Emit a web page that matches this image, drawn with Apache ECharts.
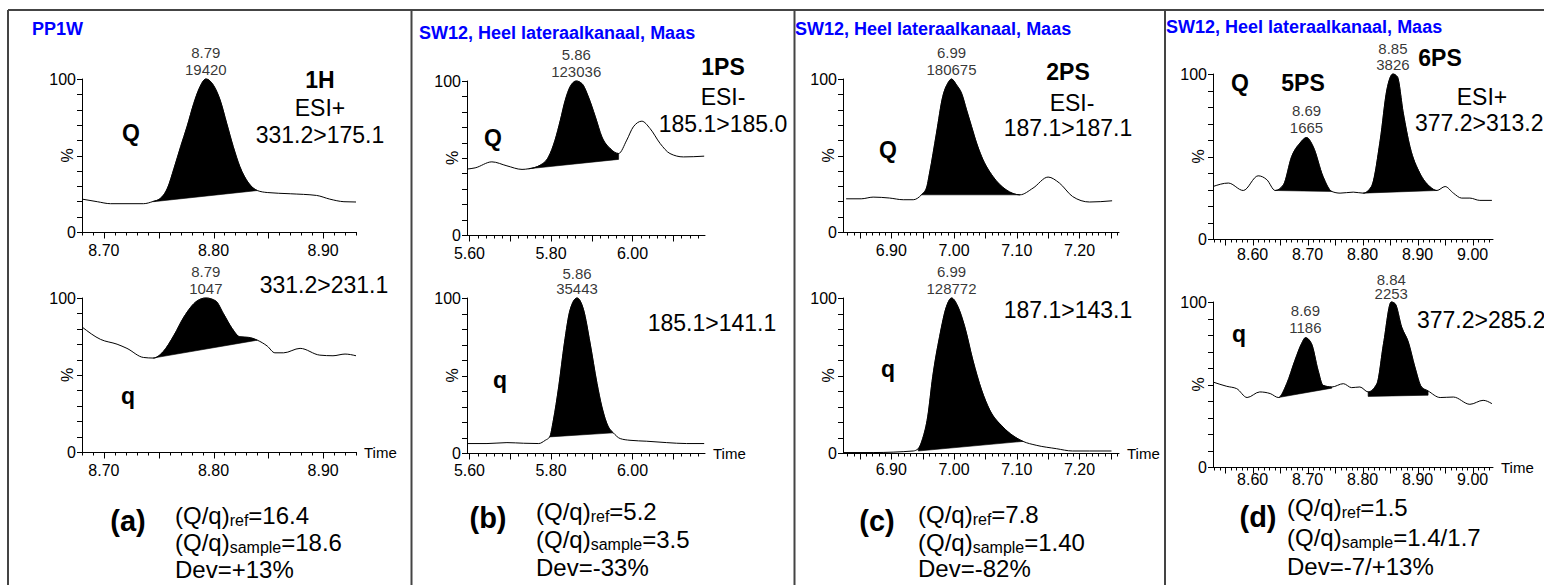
<!DOCTYPE html>
<html><head><meta charset="utf-8">
<script src="https://cdn.jsdelivr.net/npm/echarts@6/dist/echarts.min.js"></script>
<style>html,body{margin:0;padding:0;background:#fff}#c{width:1544px;height:585px}</style>
</head><body><div id="c"></div>
<script>
// ---------------- DATA ----------------
// (a) PP1W, 1H
const aQ = [[8.680,21.5],[8.694,19.8],[8.706,18.5],[8.736,18.5],[8.745,20.0],[8.751,21.7],[8.758,28.7],[8.764,41.7],[8.770,55.8],[8.776,69.3],[8.782,84.1],[8.787,93.9],[8.793,100],[8.801,94.6],[8.806,86.3],[8.812,71.1],[8.818,55.8],[8.824,42.8],[8.832,32.0],[8.840,27.1],[8.849,25.8],[8.870,25.0],[8.894,23.9],[8.906,21.5],[8.919,19.8],[8.930,19.6]];
const aQBase = [[8.745,19.8],[8.840,27.1]];
const aQApex = [8.793,100]; const aQPeakText = ['8.79','19420'];
const aq = [[8.680,81.2],[8.697,73.1],[8.712,70.0],[8.721,67.3],[8.736,61.4],[8.745,61.0],[8.754,65.1],[8.764,75.9],[8.773,87.7],[8.785,98.1],[8.793,100],[8.802,98.1],[8.809,89.9],[8.817,80.2],[8.824,74.8],[8.832,74.4],[8.840,72.6],[8.849,68.8],[8.856,64.4],[8.864,64.4],[8.879,67.3],[8.897,62.9],[8.909,62.5],[8.920,63.6],[8.930,62.5]];
const aqBase = [[8.745,61.0],[8.840,72.6]];
const aqApex = [8.793,100]; const aqPeakText = ['8.79','1047'];
const aRatio = ['16.4','18.6','+13%'];

// (b) 1PS
const bQ = [[5.594,42.8],[5.614,43.6],[5.655,47.5],[5.692,44.9],[5.729,42.6],[5.745,43.0],[5.774,45.4],[5.794,50.7],[5.810,61.6],[5.823,74.5],[5.835,87.5],[5.847,96.3],[5.862,100],[5.876,98.3],[5.892,89.6],[5.909,76.7],[5.925,63.7],[5.945,56.2],[5.966,52.9],[5.986,61.6],[6.002,70.2],[6.023,73.9],[6.043,69.2],[6.068,59.4],[6.092,52.9],[6.125,50.7],[6.176,51.2]];
const bQBase = [[5.745,43.0],[5.966,49.1]];
const bQApex = [5.862,100]; const bQPeakText = ['5.86','123036'];
const bq = [[5.594,6.1],[5.643,6.1],[5.692,6.7],[5.733,6.3],[5.770,6.1],[5.786,8.2],[5.797,10.4],[5.806,21.2],[5.819,42.7],[5.833,70.9],[5.847,92.4],[5.864,100],[5.880,92.4],[5.896,70.9],[5.913,44.9],[5.925,29.8],[5.941,16.8],[5.953,13.0],[5.970,9.3],[5.994,8.2],[6.035,7.6],[6.084,6.7],[6.133,6.1],[6.176,6.1]];
const bqBase = [[5.797,10.4],[5.953,13.0]];
const bqApex = [5.864,100]; const bqPeakText = ['5.86','35443'];
const bRatio = ['5.2','3.5','-33%'];

// (c) 2PS
const cQ = [[6.828,21.7],[6.852,21.7],[6.871,22.8],[6.897,22.2],[6.919,21.1],[6.935,21.1],[6.948,24.3],[6.956,28.7],[6.961,38.5],[6.972,64.6],[6.982,88.5],[6.990,97.2],[6.996,100],[7.004,96.1],[7.012,90.7],[7.020,79.8],[7.028,68.9],[7.036,58.1],[7.044,49.3],[7.062,36.3],[7.083,27.6],[7.105,24.3],[7.126,28.7],[7.150,35.9],[7.168,32.0],[7.189,23.2],[7.216,19.6],[7.252,20.4]];
const cQBase = [[6.948,24.3],[7.105,24.3]];
const cQApex = [6.996,100]; const cQPeakText = ['6.99','180675'];
const cq = [[6.823,0.3],[6.871,0.3],[6.935,1.3],[6.943,2.8],[6.950,9.3],[6.958,23.3],[6.966,49.2],[6.977,75.1],[6.988,94.6],[6.996,100],[7.006,94.6],[7.017,81.6],[7.030,60.0],[7.044,40.6],[7.057,27.7],[7.078,16.8],[7.110,7.5],[7.131,5.0],[7.163,2.8],[7.189,1.3],[7.216,1.3],[7.251,1.3]];
const cqBase = [[6.943,1.3],[7.110,7.5]];
const cqApex = [6.996,100]; const cqPeakText = ['6.99','128772'];
const cRatio = ['7.8','1.40','-82%'];

// (d) 5PS / 6PS
const dQ = [[8.528,31.8],[8.556,33.9],[8.583,29.4],[8.610,38.3],[8.626,35.9],[8.641,29.4],[8.656,32.8],[8.671,50.0],[8.686,58.1],[8.698,61.5],[8.710,56.1],[8.728,37.9],[8.744,28.8],[8.759,27.8],[8.783,28.4],[8.801,27.8],[8.816,31.8],[8.832,60.0],[8.844,90.3],[8.855,100],[8.863,98.4],[8.874,76.2],[8.886,56.0],[8.904,39.9],[8.922,31.8],[8.935,29.4],[8.950,31.8],[8.965,27.8],[8.980,24.8],[8.995,24.8],[9.013,23.4],[9.035,23.4]];
const dQBase5 = [[8.641,29.4],[8.744,28.8]];
const dQBase6 = [[8.801,27.8],[8.935,29.4]];
const dQApex5 = [8.698,61.5]; const dQPeakText5 = ['8.69','1665'];
const dQApex6 = [8.855,100]; const dQPeakText6 = ['8.85','3826'];
const dq = [[8.528,51.5],[8.553,48.9],[8.571,47.5],[8.590,42.1],[8.613,45.5],[8.632,44.5],[8.647,42.1],[8.662,50.5],[8.677,64.7],[8.689,74.8],[8.696,78.4],[8.707,74.8],[8.719,58.6],[8.728,49.5],[8.744,48.5],[8.765,50.5],[8.780,48.1],[8.795,48.5],[8.810,45.5],[8.826,50.5],[8.838,74.8],[8.852,100],[8.859,99.0],[8.871,84.8],[8.883,75.8],[8.895,60.6],[8.907,48.5],[8.919,46.1],[8.941,42.1],[8.965,42.4],[8.995,38.0],[9.019,40.4],[9.035,38.4]];
const dqBase5 = [[8.647,42.1],[8.744,47.8]];
const dqBase6 = [[8.810,42.8],[8.919,43.5]];
const dqApex5 = [8.696,78.4]; const dqPeakText5 = ['8.69','1186'];
const dqApex6 = [8.852,100]; const dqPeakText6 = ['8.84','2253'];
const dRatio = ['1.5','1.4/1.7','-7/+13%'];

// tick values
const aMajor = [8.70,8.75,8.80,8.85,8.90]; const aTickLabels = [8.70,8.80,8.90];
const bMajor = [5.60,5.70,5.80,5.90,6.00,6.10]; const bTickLabels = [5.60,5.80,6.00];
const cMajor = [6.85,6.90,6.95,7.00,7.05,7.10,7.15,7.20,7.25]; const cTickLabels = [6.90,7.00,7.10,7.20];
const dMajor = [8.55,8.60,8.65,8.70,8.75,8.80,8.85,8.90,8.95,9.00]; const dTickLabels = [8.60,8.70,8.80,8.90,9.00];
const yTicks = [0,10,20,30,40,50,60,70,80,90,100];
const yTickLabels = [0,100];

// ---------------- LAYOUT ----------------
const FONT = '"Liberation Sans", Arial, Helvetica, sans-serif';
function ticksFrom(a, b, step) { const out = []; for (let k = Math.ceil(a / step - 1e-6); k * step <= b + 1e-9; k++) out.push(+(k * step).toFixed(4)); return out; }

const plots = [
  {g:{left:82,top:79,width:274,height:153}, x:[8.68,8.93], major:aMajor, minor:0.01, labels:aTickLabels, margin:10, curve:aQ, peaks:[[aQBase,aQApex,aQPeakText,17]], time:false},
  {g:{left:82,top:298,width:274,height:154}, x:[8.68,8.93], major:aMajor, minor:0.01, labels:aTickLabels, margin:10, curve:aq, peaks:[[aqBase,aqApex,aqPeakText,17]], time:true},
  {g:{left:467,top:81,width:238,height:154}, x:[5.594,6.178], major:bMajor, minor:0.02, labels:bTickLabels, margin:10, curve:bQ, peaks:[[bQBase,bQApex,bQPeakText,17]], time:false},
  {g:{left:467,top:298,width:238,height:155}, x:[5.594,6.178], major:bMajor, minor:0.02, labels:bTickLabels, margin:9, curve:bq, peaks:[[bqBase,bqApex,bqPeakText,15.5]], time:true},
  {g:{left:843,top:79,width:276,height:153}, x:[6.823,7.263], major:cMajor, minor:0.01, labels:cTickLabels, margin:10, curve:cQ, peaks:[[cQBase,cQApex,cQPeakText,17]], time:false},
  {g:{left:843,top:298,width:276,height:155}, x:[6.823,7.263], major:cMajor, minor:0.01, labels:cTickLabels, margin:8, curve:cq, peaks:[[cqBase,cqApex,cqPeakText,17]], time:true},
  {g:{left:1213,top:74,width:280,height:165}, x:[8.528,9.037], major:dMajor, minor:0.01, labels:dTickLabels, margin:7, curve:dQ, peaks:[[dQBase5,dQApex5,dQPeakText5,17],[dQBase6,dQApex6,dQPeakText6,16]], time:false},
  {g:{left:1213,top:302,width:280,height:165}, x:[8.528,9.037], major:dMajor, minor:0.01, labels:dTickLabels, margin:4, curve:dq, peaks:[[dqBase5,dqApex5,dqPeakText5,17],[dqBase6,dqApex6,dqPeakText6,14]], time:true}
];

// monotone-x cubic path helpers (pixel space)
function sgn(v) { return v < 0 ? -1 : 1; }
function slope3(p0, p1, p2) {
  const h0 = p1[0] - p0[0], h1 = p2[0] - p1[0];
  const s0 = (p1[1] - p0[1]) / h0, s1 = (p2[1] - p1[1]) / h1, p = (s0 * h1 + s1 * h0) / (h0 + h1);
  return (sgn(s0) + sgn(s1)) * Math.min(Math.abs(s0), Math.abs(s1), 0.5 * Math.abs(p)) || 0;
}
function slope2(p0, p1, t) { const h = p1[0] - p0[0]; return h ? (3 * (p1[1] - p0[1]) / h - t) / 2 : t; }
function tangents(P) {
  const n = P.length, t = new Array(n).fill(0);
  if (n < 3) { const s = (P[1][1] - P[0][1]) / (P[1][0] - P[0][0]); return [s, s]; }
  for (let i = 1; i < n - 1; i++) t[i] = slope3(P[i - 1], P[i], P[i + 1]);
  t[0] = slope2(P[0], P[1], t[1]);
  t[n - 1] = slope2(P[n - 1], P[n - 2], t[n - 2]);
  return t;
}
function seg(P, T, i) {
  const a = P[i], b = P[i + 1], dx = (b[0] - a[0]) / 3;
  return 'C' + [a[0] + dx, a[1] + dx * T[i], b[0] - dx, b[1] - dx * T[i + 1], b[0], b[1]].map(v => v.toFixed(2)).join(' ');
}
const f2 = v => v.toFixed(2);

const grid = [], xAxis = [], yAxis = [], series = [];
plots.forEach((p, i) => {
  grid.push(Object.assign({}, p.g));
  xAxis.push({
    type:'value', gridIndex:i, min:p.x[0], max:p.x[1], position:'bottom',
    axisLine:{show:true, onZero:false, lineStyle:{color:'#000', width:1}},
    axisTick:{show:false},
    axisLabel:{show:true, customValues:p.labels, formatter:v => v.toFixed(2), fontSize:16, color:'#000', fontFamily:FONT, margin:p.margin},
    splitLine:{show:false},
    name: p.time ? 'Time' : '', nameLocation:'end', nameGap:8,
    nameTextStyle:{fontSize:15, color:'#000', fontFamily:FONT}
  });
  yAxis.push({
    type:'value', gridIndex:i, min:0, max:100, interval:10,
    axisLine:{show:true, onZero:false, lineStyle:{color:'#000', width:1}},
    axisTick:{show:false},
    axisLabel:{customValues:yTickLabels, formatter:v => String(v), fontSize:16, color:'#000', fontFamily:FONT, margin:6},
    splitLine:{show:false}
  });
  const xi = i, yi = i;
  // tick marks, placed through the axis scales (one path per plot)
  const minorVals = ticksFrom(p.x[0], p.x[1], p.minor);
  series.push({
    type:'custom', xAxisIndex:xi, yAxisIndex:yi, silent:true, clip:false, z:6,
    data: minorVals.map(v => [v, 0]),
    renderItem:(params, api) => {
      if (params.dataIndex !== 0) return null;
      let d = '';
      minorVals.forEach(v => { const c = api.coord([v, 0]); const x = Math.round(c[0]) + 0.5, y = Math.round(c[1]); d += 'M' + f2(x) + ' ' + f2(y) + 'L' + f2(x) + ' ' + f2(y + 3.5); });
      p.major.forEach(v => { const c = api.coord([v, 0]); const x = Math.round(c[0]) + 0.5, y = Math.round(c[1]); d += 'M' + f2(x) + ' ' + f2(y) + 'L' + f2(x) + ' ' + f2(y + 6.5); });
      yTicks.forEach(v => { const c = api.coord([p.x[0], v]); const x = Math.round(c[0]), y = Math.round(c[1]) + 0.5; d += 'M' + f2(x) + ' ' + f2(y) + 'L' + f2(x - 5) + ' ' + f2(y); });
      return {type:'path', shape:{pathData:d}, style:{fill:'none', stroke:'#000', lineWidth:1}};
    }
  });
  // filled peaks
  p.peaks.forEach(pk => {
    const base = pk[0];
    series.push({
      type:'custom', xAxisIndex:xi, yAxisIndex:yi, silent:true, z:2, data:p.curve,
      renderItem:(params, api) => {
        if (params.dataIndex !== 0) return null;
        const P = p.curve.map(v => api.coord(v)), T = tangents(P);
        const j0 = p.curve.findIndex(v => v[0] >= base[0][0]);
        let j1 = -1; p.curve.forEach((v, k) => { if (v[0] <= base[1][0]) j1 = k; });
        const b0 = api.coord(base[0]), b1 = api.coord(base[1]);
        let d = 'M' + f2(b0[0]) + ' ' + f2(b0[1]) + 'L' + f2(P[j0][0]) + ' ' + f2(P[j0][1]);
        for (let k = j0; k < j1; k++) d += seg(P, T, k);
        d += 'L' + f2(b1[0]) + ' ' + f2(b1[1]) + 'Z';
        return {type:'path', shape:{pathData:d}, style:{fill:'#000', stroke:'#000', lineWidth:0.6}};
      }
    });
  });
  // chromatogram trace
  series.push({
    type:'custom', xAxisIndex:xi, yAxisIndex:yi, silent:true, z:3, data:p.curve,
    renderItem:(params, api) => {
      if (params.dataIndex !== 0) return null;
      const P = p.curve.map(v => api.coord(v)), T = tangents(P);
      let d = 'M' + f2(P[0][0]) + ' ' + f2(P[0][1]);
      for (let k = 0; k < P.length - 1; k++) d += seg(P, T, k);
      return {type:'path', shape:{pathData:d}, style:{fill:'none', stroke:'#000', lineWidth:1}};
    }
  });
  // peak labels (retention time / area)
  series.push({
    type:'scatter', xAxisIndex:xi, yAxisIndex:yi, symbolSize:1, itemStyle:{color:'rgba(0,0,0,0)'}, silent:true, z:4,
    data:p.peaks.map(pk => ({value:pk[1], label:{formatter:pk[2].join('\n'), lineHeight:pk[3]}})),
    label:{show:true, position:'top', distance:1, fontSize:15, color:'#000', fontFamily:FONT}
  });
});

// ---------------- TEXT / FRAME ----------------
function T(x, y, text, size, bold, align, color) {
  return {type:'text', x, y, silent:true, z:10, style:{text, fontSize:size, fontWeight:bold ? 'bold' : 'normal', fontFamily:FONT, fill:color || '#000', align:align || 'center', verticalAlign:'middle'}};
}
function ratioLines(x, ys, vals) {
  const rich = {m:{fontSize:24, fontFamily:FONT, fill:'#000'}, s:{fontSize:16, fontFamily:FONT, fill:'#000', padding:[10,0,0,0]}};
  return [
    {type:'text', x, y:ys[0], silent:true, z:10, style:{text:'{m|(Q/q)}{s|ref}{m|=' + vals[0] + '}', rich, fill:'#000', fontSize:24, fontFamily:FONT, align:'left', verticalAlign:'middle'}},
    {type:'text', x, y:ys[1], silent:true, z:10, style:{text:'{m|(Q/q)}{s|sample}{m|=' + vals[1] + '}', rich, fill:'#000', fontSize:24, fontFamily:FONT, align:'left', verticalAlign:'middle'}},
    T(x, ys[2], 'Dev=' + vals[2], 24, false, 'left')
  ];
}
function L(x1, y1, x2, y2) { return {type:'line', silent:true, z:1, shape:{x1, y1, x2, y2}, style:{stroke:'#444', lineWidth:2}}; }
const BLUE = '#0000FF';
const percentLabels = plots.map(p => ({type:'text', x:p.g.left - 15, y:p.g.top + p.g.height / 2, rotation:Math.PI / 2, silent:true, z:10,
  style:{text:'%', fontSize:16, fontFamily:FONT, fill:'#000', align:'center', verticalAlign:'middle'}}));
const graphic = [
  L(8, 10, 1544, 10), L(8, 10, 8, 585), L(411.5, 10, 411.5, 585), L(794.5, 10, 794.5, 585), L(1165, 10, 1165, 585),
  ...percentLabels,
  // (a)
  T(32, 28.5, 'PP1W', 18, true, 'left', BLUE),
  T(131, 133, 'Q', 23, true), T(320, 80, '1H', 23, true), T(320, 108, 'ESI+', 23), T(320, 135, '331.2>175.1', 23),
  T(324, 285, '331.2>231.1', 23), T(128, 396, 'q', 23, true), T(128, 521, '(a)', 29, true),
  ...ratioLines(175, [515, 542, 569], aRatio),
  // (b)
  T(419, 33, 'SW12, Heel lateraalkanaal, Maas', 18, true, 'left', BLUE),
  T(723, 67, '1PS', 23, true), T(723, 97, 'ESI-', 23), T(723, 124, '185.1>185.0', 23),
  T(493, 138, 'Q', 23, true), T(712, 323, '185.1>141.1', 23), T(500, 380, 'q', 23, true), T(488, 518, '(b)', 29, true),
  ...ratioLines(536, [511, 539, 567], bRatio),
  // (c)
  T(795, 28.5, 'SW12, Heel lateraalkanaal, Maas', 18, true, 'left', BLUE),
  T(1068, 72, '2PS', 23, true), T(1072, 103, 'ESI-', 23), T(1068, 128, '187.1>187.1', 23),
  T(888, 150, 'Q', 23, true), T(1068, 310, '187.1>143.1', 23), T(888, 369, 'q', 23, true), T(877, 521, '(c)', 29, true),
  ...ratioLines(918, [514, 542, 568], cRatio),
  // (d)
  T(1166, 27, 'SW12, Heel lateraalkanaal, Maas', 18, true, 'left', BLUE),
  T(1240, 83, 'Q', 23, true), T(1303, 83, '5PS', 23, true), T(1440, 58, '6PS', 23, true), T(1482, 97, 'ESI+', 23),
  T(1415, 123, '377.2>313.2', 23, false, 'left'), T(1417, 320, '377.2>285.2', 23, false, 'left'),
  T(1239, 334, 'q', 23, true), T(1258, 517, '(d)', 29, true),
  ...ratioLines(1287, [507, 537, 566], dRatio)
];

const chart = echarts.init(document.getElementById('c'), null, {renderer:'svg', width:1544, height:585});
chart.setOption({animation:false, backgroundColor:'#fff', grid, xAxis, yAxis, series, graphic});
</script></body></html>
